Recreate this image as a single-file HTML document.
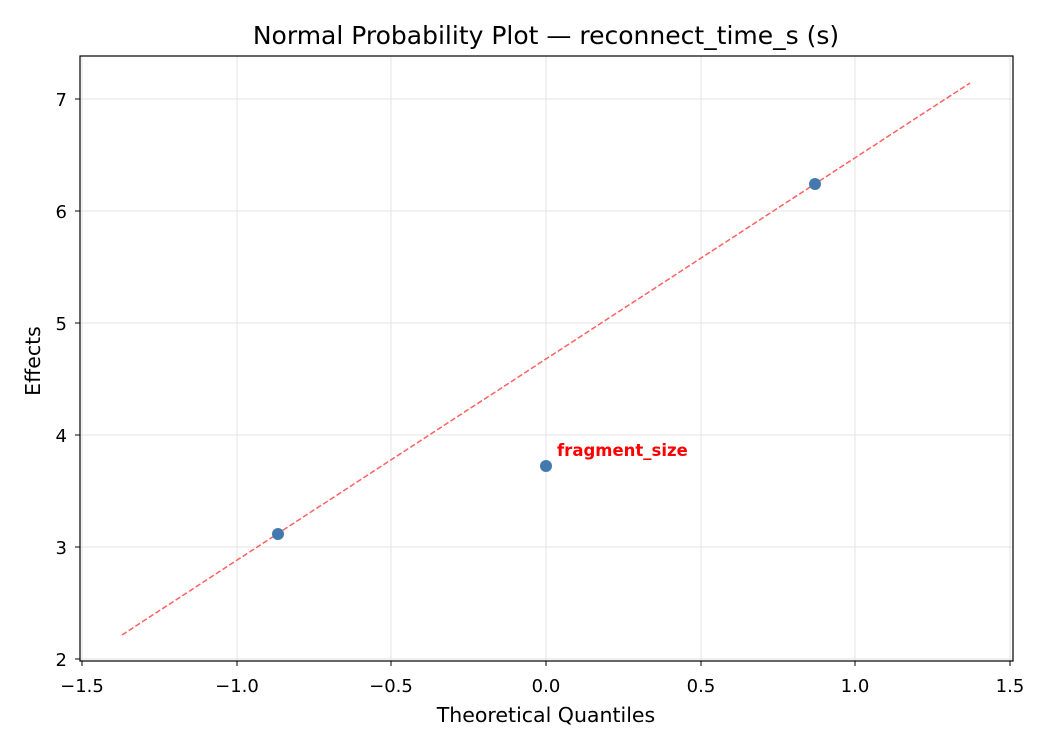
<!DOCTYPE html>
<html><head><style>body{margin:0;background:#fff}</style></head><body>
<svg width="1050" height="750" xmlns="http://www.w3.org/2000/svg" font-family="DejaVu Sans, Liberation Sans, sans-serif">
<rect width="1050" height="750" fill="#fff"/>
<g stroke="#e3e3e3" stroke-width="1">
<line x1="82" y1="56" x2="82" y2="661"/><line x1="237" y1="56" x2="237" y2="661"/><line x1="391" y1="56" x2="391" y2="661"/><line x1="546" y1="56" x2="546" y2="661"/><line x1="701" y1="56" x2="701" y2="661"/><line x1="855" y1="56" x2="855" y2="661"/><line x1="1010" y1="56" x2="1010" y2="661"/>
<line x1="80" y1="659" x2="1013" y2="659"/><line x1="80" y1="547" x2="1013" y2="547"/><line x1="80" y1="435" x2="1013" y2="435"/><line x1="80" y1="323" x2="1013" y2="323"/><line x1="80" y1="211" x2="1013" y2="211"/><line x1="80" y1="99" x2="1013" y2="99"/>
</g>
<line x1="122" y1="635" x2="970" y2="83" stroke="#ff6060" stroke-width="1.5" stroke-dasharray="5.5,2.5"/>
<g fill="#4479b0"><circle cx="278" cy="534" r="6"/><circle cx="546" cy="466" r="6"/><circle cx="815" cy="184" r="6"/></g>
<text x="557" y="456" font-size="16.5" font-weight="bold" fill="#f00">fragment_size</text>
<rect x="80" y="56" width="933" height="605" fill="none" stroke="#000" stroke-width="1.2"/>
<g stroke="#000" stroke-width="1">
<line x1="82" y1="661" x2="82" y2="666"/><line x1="237" y1="661" x2="237" y2="666"/><line x1="391" y1="661" x2="391" y2="666"/><line x1="546" y1="661" x2="546" y2="666"/><line x1="701" y1="661" x2="701" y2="666"/><line x1="855" y1="661" x2="855" y2="666"/><line x1="1010" y1="661" x2="1010" y2="666"/>
<line x1="75" y1="659" x2="80" y2="659"/><line x1="75" y1="547" x2="80" y2="547"/><line x1="75" y1="435" x2="80" y2="435"/><line x1="75" y1="323" x2="80" y2="323"/><line x1="75" y1="211" x2="80" y2="211"/><line x1="75" y1="99" x2="80" y2="99"/>
</g>
<g font-size="18" text-anchor="middle" fill="#000">
<text x="82" y="692">−1.5</text><text x="237" y="692">−1.0</text><text x="391" y="692">−0.5</text><text x="546" y="692">0.0</text><text x="701" y="692">0.5</text><text x="855" y="692">1.0</text><text x="1010" y="692">1.5</text>
</g>
<g font-size="18" text-anchor="end" fill="#000">
<text x="67" y="666">2</text><text x="67" y="554">3</text><text x="67" y="442">4</text><text x="67" y="330">5</text><text x="67" y="218">6</text><text x="67" y="106">7</text>
</g>
<text x="546" y="722" font-size="20.5" text-anchor="middle">Theoretical Quantiles</text>
<text x="40" y="361" font-size="20.5" text-anchor="middle" transform="rotate(-90 40 361)">Effects</text>
<text x="546" y="44" font-size="25" text-anchor="middle">Normal Probability Plot — reconnect_time_s (s)</text>
</svg>
</body></html>
